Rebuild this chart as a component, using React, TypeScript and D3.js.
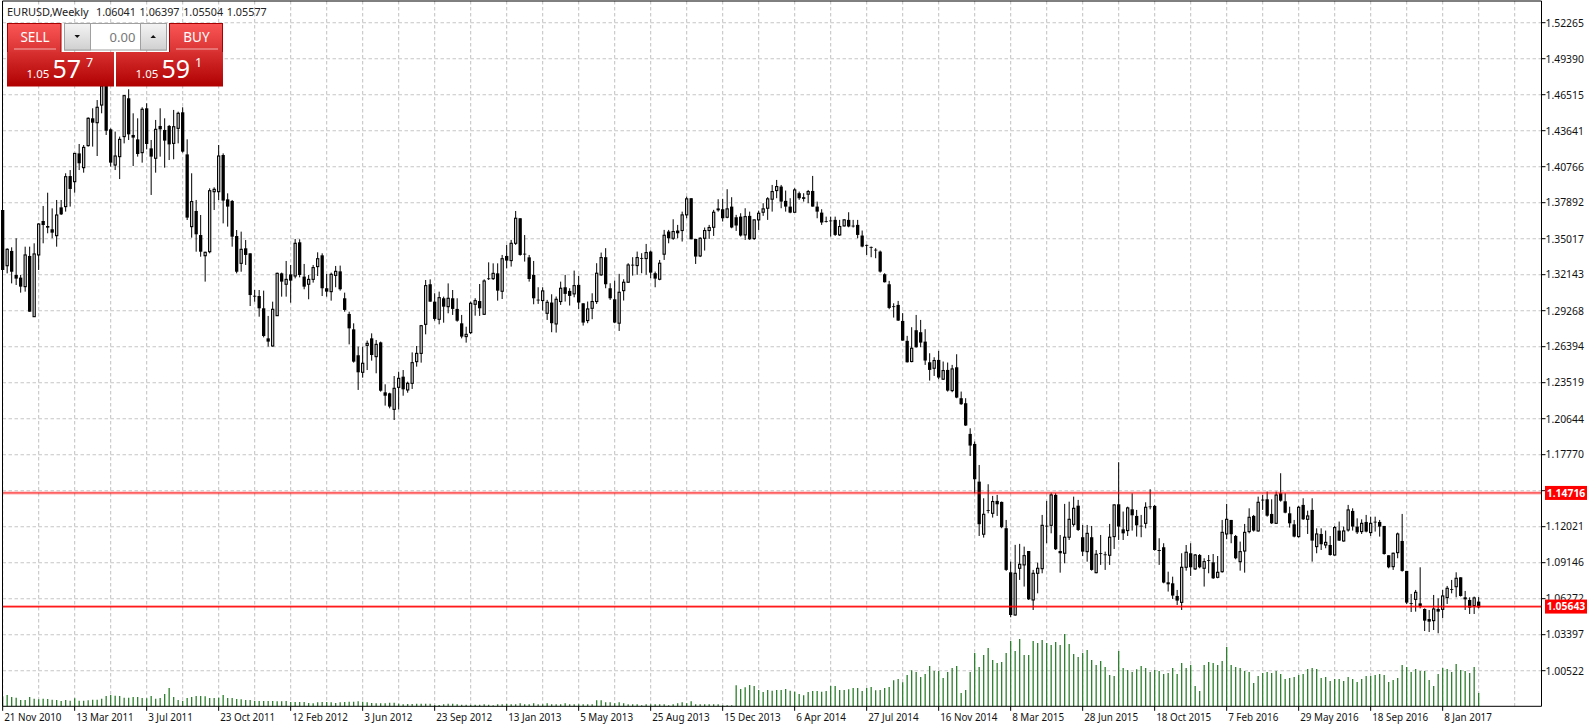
import * as d3 from 'd3';

// EURUSD weekly, values
const opens = [
  1.3731,1.3286,1.3404,1.3212,1.3191,1.3119,1.3364,1.2879,1.3372,1.3643,
  1.3603,1.3577,1.3526,1.3752,1.3758,1.4002,1.3957,1.4183,1.4069,1.4245,
  1.4463,1.4428,1.4569,1.4721,1.4375,1.4090,1.4157,1.4317,1.4623,1.4330,
  1.4295,1.4189,1.4543,1.4223,1.4144,1.4402,1.4370,1.4402,1.4263,1.4383,
  1.4511,1.4175,1.3598,1.3723,1.3531,1.3366,1.3398,1.3877,1.3877,1.4170,
  1.3816,1.3803,1.3523,1.3305,1.3425,1.3385,1.3046,1.3044,1.2946,1.2706,
  1.2645,1.2887,1.3225,1.3138,1.3217,1.3204,1.3473,1.3199,1.3138,1.3177,
  1.3279,1.3369,1.3106,1.3079,1.3209,1.3241,1.3026,1.2901,1.2778,1.2571,
  1.2435,1.2650,1.2706,1.2560,1.2674,1.2275,1.2267,1.2139,1.2315,1.2400,
  1.2294,1.2347,1.2520,1.2586,1.2818,1.3138,1.2999,1.2858,1.3026,1.2959,
  1.3026,1.2941,1.2826,1.2720,1.2752,1.2978,1.3004,1.2898,1.3185,1.3183,
  1.3225,1.3082,1.3364,1.3327,1.3465,1.3665,1.3382,1.3353,1.3213,1.3015,
  1.3008,1.2906,1.2992,1.2821,1.3000,1.3114,1.3085,1.3061,1.3133,1.2986,
  1.2848,1.2946,1.3000,1.3213,1.3354,1.3106,1.3018,1.2827,1.3087,1.3154,
  1.3294,1.3287,1.3348,1.3343,1.3399,1.3226,1.3178,1.3378,1.3559,1.3505,
  1.3567,1.3567,1.3692,1.3825,1.3500,1.3364,1.3505,1.3567,1.3593,1.3735,
  1.3737,1.3673,1.3758,1.3673,1.3678,1.3532,1.3684,1.3503,1.3652,1.3713,
  1.3745,1.3817,1.3886,1.3918,1.3804,1.3758,1.3713,1.3865,1.3833,1.3857,
  1.3883,1.3758,1.3710,1.3643,1.3647,1.3652,1.3532,1.3604,1.3652,1.3606,
  1.3612,1.3527,1.3452,1.3436,1.3414,1.3399,1.3218,1.3138,1.2962,1.2973,
  1.2845,1.2686,1.2521,1.2771,1.2755,1.2680,1.2515,1.2467,1.2534,1.2380,
  1.2454,1.2289,1.2475,1.2228,1.2188,1.1943,1.1863,1.1562,1.1142,1.1335,
  1.1309,1.1408,1.1400,1.1190,1.0838,1.0497,1.0870,1.0897,1.1008,1.0617,
  1.0830,1.0867,1.1210,1.1213,1.1456,1.1008,1.0990,1.1118,1.1221,1.1370,
  1.1118,1.1003,1.1118,1.0835,1.0992,1.0981,1.0974,1.1123,1.1381,1.1181,
  1.1171,1.1341,1.1288,1.1210,1.1229,1.1364,1.1368,1.1016,1.1038,1.0758,
  1.0750,1.0649,1.0598,1.0878,1.0990,1.0865,1.0976,1.0870,1.0936,1.0918,
  1.0798,1.0843,1.1144,1.1256,1.1128,1.0923,1.1008,1.1163,1.1288,1.1168,
  1.1418,1.1421,1.1304,1.1229,1.1469,1.1405,1.1309,1.1221,1.1123,1.1376,
  1.1261,1.1336,1.1043,1.1144,1.1056,1.1056,1.0976,1.1171,1.1088,1.1176,
  1.1328,1.1203,1.1163,1.1240,1.1155,1.1242,1.1240,1.1208,1.0974,1.0883,
  1.0995,1.1088,1.0849,1.0592,1.0622,1.0590,1.0545,1.0465,1.0452,1.0545,
  1.0542,1.0636,1.0704,1.0723,1.0798,1.0638,1.0617,1.0572,1.0604,
];
const highs = [
  1.3731,1.3425,1.3433,1.3505,1.3212,1.3438,1.3438,1.3465,1.3624,1.3763,
  1.3869,1.3744,1.3811,1.3811,1.4024,1.4050,1.4183,1.4258,1.4250,1.4471,
  1.4543,1.4609,1.4729,1.4729,1.4383,1.4357,1.4317,1.4649,1.4695,1.4503,
  1.4463,1.4551,1.4583,1.4290,1.4450,1.4543,1.4463,1.4410,1.4530,1.4516,
  1.4551,1.4295,1.4024,1.3811,1.3691,1.3398,1.3904,1.3912,1.4250,1.4183,
  1.3864,1.3811,1.3571,1.3558,1.3491,1.3385,1.3092,1.3092,1.3087,1.2885,
  1.2999,1.3231,1.3231,1.3324,1.3292,1.3500,1.3497,1.3300,1.3212,1.3292,
  1.3393,1.3385,1.3220,1.3231,1.3284,1.3287,1.3071,1.2919,1.2826,1.2640,
  1.2640,1.2688,1.2746,1.2693,1.2680,1.2339,1.2272,1.2405,1.2440,1.2453,
  1.2360,1.2594,1.2645,1.2813,1.3172,1.3177,1.3066,1.3079,1.3039,1.3145,
  1.3092,1.3026,1.2893,1.2799,1.2999,1.3026,1.3140,1.3177,1.3313,1.3305,
  1.3305,1.3372,1.3452,1.3492,1.3723,1.3665,1.3531,1.3372,1.3324,1.3114,
  1.3114,1.3013,1.3058,1.3040,1.3159,1.3213,1.3106,1.3247,1.3205,1.2986,
  1.3000,1.3066,1.3306,1.3391,1.3426,1.3146,1.3167,1.3221,1.3178,1.3306,
  1.3354,1.3399,1.3386,1.3460,1.3407,1.3239,1.3332,1.3572,1.3572,1.3657,
  1.3612,1.3718,1.3838,1.3825,1.3500,1.3513,1.3591,1.3612,1.3732,1.3817,
  1.3820,1.3897,1.3833,1.3692,1.3705,1.3745,1.3718,1.3655,1.3726,1.3785,
  1.3833,1.3931,1.3971,1.3931,1.3886,1.3825,1.3905,1.3878,1.3865,1.3891,
  1.4003,1.3798,1.3737,1.3678,1.3678,1.3678,1.3652,1.3657,1.3713,1.3652,
  1.3652,1.3567,1.3455,1.3439,1.3426,1.3407,1.3226,1.3165,1.2986,1.3005,
  1.2907,1.2726,1.2795,1.2893,1.2853,1.2779,1.2587,1.2555,1.2606,1.2521,
  1.2513,1.2494,1.2579,1.2281,1.2228,1.1988,1.1882,1.1695,1.1429,1.1541,
  1.1448,1.1456,1.1403,1.1256,1.0923,1.1057,1.1065,1.1043,1.1008,1.0857,
  1.0915,1.1296,1.1408,1.1474,1.1469,1.1136,1.1384,1.1402,1.1442,1.1416,
  1.1216,1.1216,1.1208,1.1016,1.1136,1.1003,1.1224,1.1381,1.1717,1.1323,
  1.1362,1.1469,1.1336,1.1296,1.1397,1.1501,1.1376,1.1110,1.1070,1.0843,
  1.0803,1.0697,1.0990,1.1056,1.1070,1.0984,1.0984,1.0950,1.0976,1.0984,
  1.0968,1.1256,1.1384,1.1256,1.1136,1.1083,1.1224,1.1349,1.1296,1.1442,
  1.1455,1.1482,1.1421,1.1482,1.1629,1.1469,1.1362,1.1256,1.1368,1.1429,
  1.1330,1.1429,1.1189,1.1189,1.1171,1.1128,1.1208,1.1243,1.1203,1.1376,
  1.1349,1.1269,1.1261,1.1296,1.1282,1.1282,1.1256,1.1208,1.0974,1.0995,
  1.1155,1.1304,1.0849,1.0665,1.0697,1.0878,1.0550,1.0537,1.0657,1.0630,
  1.0697,1.0729,1.0777,1.0838,1.0798,1.0689,1.0638,1.0644,1.0640,
];
const lows = [
  1.3252,1.3225,1.3145,1.3132,1.3071,1.3079,1.2919,1.2879,1.3252,1.3465,
  1.3545,1.3505,1.3438,1.3691,1.3718,1.3758,1.3869,1.4050,1.4029,1.4237,
  1.4237,1.4162,1.4503,1.4330,1.4077,1.4050,1.3978,1.4263,1.4290,1.4082,
  1.4157,1.4109,1.4215,1.3851,1.4029,1.4157,1.4069,1.4130,1.4136,1.4263,
  1.4189,1.3651,1.3510,1.3398,1.3358,1.3159,1.3385,1.3731,1.3811,1.3624,
  1.3598,1.3438,1.3225,1.3238,1.3292,1.2964,1.2999,1.2879,1.2714,1.2640,
  1.2640,1.2887,1.3039,1.3039,1.2991,1.3185,1.3193,1.3098,1.3018,1.3151,
  1.3204,1.3044,1.3039,1.3007,1.3114,1.3087,1.2919,1.2658,1.2512,1.2294,
  1.2392,1.2453,1.2528,1.2427,1.2280,1.2169,1.2147,1.2054,1.2139,1.2248,
  1.2272,1.2302,1.2480,1.2512,1.2738,1.2999,1.2847,1.2818,1.2831,1.2906,
  1.2893,1.2839,1.2706,1.2672,1.2741,1.2887,1.2885,1.2893,1.3172,1.3172,
  1.3007,1.3020,1.3265,1.3279,1.3452,1.3366,1.3319,1.3159,1.2978,1.2981,
  1.2928,1.2853,1.2755,1.2752,1.2973,1.3000,1.2968,1.3034,1.2941,1.2808,
  1.2827,1.2859,1.2981,1.3205,1.3106,1.3013,1.2827,1.2765,1.3008,1.3151,
  1.3207,1.3213,1.3226,1.3213,1.3186,1.3114,1.3170,1.3332,1.3465,1.3492,
  1.3505,1.3479,1.3665,1.3497,1.3300,1.3355,1.3407,1.3500,1.3524,1.3718,
  1.3639,1.3665,1.3585,1.3564,1.3519,1.3492,1.3492,1.3492,1.3572,1.3684,
  1.3652,1.3718,1.3825,1.3745,1.3718,1.3705,1.3710,1.3812,1.3798,1.3785,
  1.3758,1.3665,1.3612,1.3631,1.3519,1.3524,1.3524,1.3599,1.3593,1.3591,
  1.3505,1.3433,1.3372,1.3354,1.3346,1.3231,1.3152,1.2939,1.2872,1.2845,
  1.2688,1.2513,1.2515,1.2632,1.2635,1.2494,1.2369,1.2406,1.2380,1.2374,
  1.2281,1.2276,1.2228,1.2175,1.2007,1.1767,1.1469,1.1128,1.1115,1.1309,
  1.1275,1.1288,1.1190,1.0849,1.0479,1.0492,1.0777,1.0724,1.0617,1.0537,
  1.0670,1.0830,1.1070,1.1149,1.1016,1.0835,1.0910,1.1096,1.1203,1.1168,
  1.0968,1.0923,1.0851,1.0830,1.0897,1.0857,1.0897,1.1024,1.1096,1.1096,
  1.1128,1.1171,1.1123,1.1118,1.1189,1.1341,1.1011,1.0897,1.0750,1.0684,
  1.0625,1.0577,1.0537,1.0851,1.0809,1.0857,1.0870,1.0724,1.0830,1.0785,
  1.0790,1.0835,1.1102,1.1070,1.0942,1.0851,1.0835,1.1149,1.1163,1.1163,
  1.1336,1.1282,1.1224,1.1224,1.1402,1.1309,1.1195,1.1117,1.1115,1.1256,
  1.1144,1.0923,1.0990,1.1016,1.1030,1.0971,1.0971,1.1088,1.1083,1.1163,
  1.1171,1.1144,1.1144,1.1157,1.1128,1.1163,1.1123,1.0979,1.0870,1.0857,
  1.0950,1.0843,1.0585,1.0521,1.0524,1.0550,1.0369,1.0361,1.0377,1.0351,
  1.0471,1.0585,1.0670,1.0638,1.0644,1.0537,1.0505,1.0505,1.0550,
];
const closes = [
  1.3252,1.3417,1.3238,1.3183,1.3119,1.3372,1.2919,1.3380,1.3619,1.3611,
  1.3590,1.3550,1.3691,1.3696,1.3997,1.3899,1.4183,1.4104,1.4231,1.4463,
  1.4428,1.4551,1.4721,1.4364,1.4109,1.4162,1.4295,1.4644,1.4335,1.4309,
  1.4178,1.4535,1.4258,1.4157,1.4375,1.4375,1.4285,1.4255,1.4396,1.4503,
  1.4197,1.3670,1.3798,1.3537,1.3398,1.3393,1.3885,1.3896,1.4162,1.3806,
  1.3758,1.3518,1.3238,1.3417,1.3372,1.3052,1.3042,1.2946,1.2725,1.2680,
  1.2938,1.3225,1.3159,1.3177,1.3167,1.3465,1.3212,1.3119,1.3177,1.3271,
  1.3342,1.3106,1.3079,1.3217,1.3241,1.3098,1.2933,1.2786,1.2520,1.2435,
  1.2507,1.2666,1.2573,1.2658,1.2288,1.2248,1.2161,1.2307,1.2387,1.2299,
  1.2347,1.2512,1.2586,1.2807,1.3127,1.2999,1.2861,1.3031,1.2959,1.3026,
  1.2941,1.2847,1.2720,1.2738,1.2986,1.3007,1.2946,1.3164,1.3181,1.3225,
  1.3087,1.3342,1.3327,1.3465,1.3665,1.3372,1.3378,1.3180,1.3026,1.3011,
  1.3085,1.2994,1.2827,1.3018,1.3106,1.3061,1.3045,1.3127,1.2992,1.2832,
  1.2941,1.3000,1.3226,1.3351,1.3138,1.3026,1.2832,1.3074,1.3154,1.3292,
  1.3290,1.3351,1.3344,1.3391,1.3231,1.3183,1.3306,1.3529,1.3505,1.3559,
  1.3545,1.3692,1.3820,1.3497,1.3359,1.3505,1.3567,1.3591,1.3713,1.3739,
  1.3665,1.3740,1.3591,1.3607,1.3527,1.3678,1.3497,1.3652,1.3705,1.3740,
  1.3820,1.3878,1.3918,1.3798,1.3758,1.3710,1.3891,1.3825,1.3820,1.3878,
  1.3758,1.3718,1.3631,1.3639,1.3641,1.3532,1.3599,1.3652,1.3599,1.3602,
  1.3532,1.3439,1.3447,1.3432,1.3410,1.3239,1.3154,1.2949,1.2958,1.2848,
  1.2688,1.2515,1.2627,1.2635,1.2672,1.2529,1.2454,1.2529,1.2393,1.2449,
  1.2289,1.2462,1.2233,1.2180,1.2010,1.1850,1.1581,1.1222,1.1301,1.1331,
  1.1403,1.1381,1.1198,1.0857,1.0497,1.0830,1.0902,1.0971,1.0622,1.0830,
  1.0870,1.1213,1.1206,1.1456,1.1022,1.0990,1.1118,1.1261,1.1349,1.1176,
  1.1003,1.1149,1.0857,1.0982,1.0988,1.0977,1.1118,1.1376,1.1203,1.1149,
  1.1352,1.1293,1.1213,1.1206,1.1357,1.1360,1.1016,1.1008,1.0756,1.0742,
  1.0652,1.0612,1.0878,1.0998,1.0878,1.0976,1.0878,1.0923,1.0932,1.0790,
  1.0838,1.1157,1.1261,1.1142,1.0950,1.1003,1.1157,1.1277,1.1171,1.1397,
  1.1414,1.1290,1.1229,1.1455,1.1410,1.1314,1.1229,1.1123,1.1357,1.1261,
  1.1288,1.1091,1.1144,1.1062,1.1077,1.0976,1.1195,1.1091,1.1168,1.1336,
  1.1203,1.1157,1.1229,1.1163,1.1229,1.1238,1.1203,1.0984,1.0878,1.0990,
  1.1144,1.0849,1.0596,1.0588,1.0678,1.0564,1.0452,1.0444,1.0545,1.0524,
  1.0649,1.0710,1.0700,1.0790,1.0649,1.0622,1.0556,1.0633,1.0558,
];
const volumes = [
  30,34,28,26,19,19,28,23,21,23,22,
  20,19,16,19,17,24,17,17,18,20,
  20,23,31,34,32,31,26,26,28,28,
  25,24,31,23,25,37,55,28,19,16,
  25,28,31,31,30,25,25,26,34,25,
  25,22,21,19,19,16,16,16,16,16,
  15,15,16,13,13,13,13,10,9,12,
  13,13,12,10,12,13,14,14,15,14,
  12,10,9,9,9,11,11,8,6,7,
  7,8,8,8,8,4,4,6,8,8,
  6,5,5,5,5,
  5,6,5,3,6,6,7,6,6,9,
  6,6,9,6,6,9,6,6,6,9,
  6,6,6,6,6,6,18,18,12,12,
  9,12,9,6,6,6,3,6,6,6,
  6,6,3,6,9,12,9,15,6,6,
  6,6,6,6,3,3,3,
  63,52,57,64,61,49,43,49,47,49,49,52,47,44,37,33,43,46,46,44,46,61,61,49,49,51,55,55,46,55,58,48,49,55,58,
  78,82,72,94,108,103,88,97,121,106,106,85,103,115,121,40,49,103,160,118,154,175,139,130,133,160,196,166,202,154,154,196,190,199,190,184,193,184,217,187,157,148,160,169,139,124,136,118,94,91,166,115,109,103,111,121,115,
  103,109,106,97,100,115,97,130,115,124,61,46,124,133,130,124,136,178,124,118,115,106,103,70,91,100,103,100,106,97,82,85,88,94,97,112,115,112,85,88,76,82,82,76,88,82,73,82,91,91,94,97,94,73,79,85,124,118,103,112,106,106,79,61,97,115,112,103,127,109,106,100,118,40,
];
const dateLabels = [
  '21 Nov 2010','13 Mar 2011','3 Jul 2011','23 Oct 2011','12 Feb 2012','3 Jun 2012','23 Sep 2012',
  '13 Jan 2013','5 May 2013','25 Aug 2013','15 Dec 2013','6 Apr 2014','27 Jul 2014','16 Nov 2014',
  '8 Mar 2015','28 Jun 2015','18 Oct 2015','7 Feb 2016','29 May 2016','18 Sep 2016','8 Jan 2017',
];
const priceTicks = [
  1.52265,1.4939,1.46515,1.43641,1.40766,1.37892,1.35017,1.32143,1.29268,1.26394,
  1.23519,1.20644,1.1777,1.14895,1.12021,1.09146,1.06272,1.03397,1.00522,
];
const hLevels = [1.14716, 1.05643];
const titleValues = ['1.06041', '1.06397', '1.05504', '1.05577'];

const W = 1589;
const H = 726;
const plotRight = 1541.5;
const plotBottom = 706.3;
const fontFamily = '"Noto Sans", sans-serif';

const x = d3.scaleLinear().domain([0, 328]).range([2.67, 2.67 + 4.5 * 328]);
const y = d3.scaleLinear().domain([1.00522, 1.52265]).range([670.7, 22.7]);
const yVol = d3.scaleLinear().domain([0, 217]).range([plotBottom, 634]);
const vGrid = d3.range(0, 43).map((i) => x(0) + 36 * i).filter((v) => v < plotRight);

function TradePanel() {
  return (
    <g fontFamily={fontFamily}>
      <defs>
        <linearGradient id="redTop" x1="0" x2="0" y1="0" y2="1">
          <stop offset="0" stopColor="#fb5656" />
          <stop offset="1" stopColor="#d93232" />
        </linearGradient>
        <linearGradient id="redBottom" x1="0" x2="0" y1="0" y2="1">
          <stop offset="0" stopColor="#d83030" />
          <stop offset="1" stopColor="#b00000" />
        </linearGradient>
        <linearGradient id="btnGrey" x1="0" x2="0" y1="0" y2="1">
          <stop offset="0" stopColor="#f4f4f4" />
          <stop offset="1" stopColor="#d0d0d0" />
        </linearGradient>
      </defs>
      <rect x="7.5" y="23.5" width="53.5" height="29" fill="url(#redTop)" stroke="#a80000" />
      <rect x="169.5" y="23.5" width="53" height="29" fill="url(#redTop)" stroke="#a80000" />
      <rect x="7" y="52" width="107" height="34.5" fill="url(#redBottom)" />
      <rect x="116" y="52" width="107" height="34.5" fill="url(#redBottom)" />
      <rect x="64.5" y="23.5" width="102" height="26.5" fill="#fff" stroke="#a0a0a0" />
      <rect x="64.5" y="23.5" width="26" height="26.5" fill="url(#btnGrey)" stroke="#a0a0a0" />
      <rect x="140.5" y="23.5" width="26" height="26.5" fill="url(#btnGrey)" stroke="#a0a0a0" />
      <path d="M74.5 35 L80 35 L77.2 38 Z" fill="#111" />
      <path d="M150.5 38 L156 38 L153.2 35 Z" fill="#111" />
      <text x="122.5" y="41.5" textAnchor="middle" fontSize="13" fill="#777">0.00</text>
      <text x="35" y="42" textAnchor="middle" fontSize="13.5" fill="#fff">SELL</text>
      <text x="196.5" y="42" textAnchor="middle" fontSize="13.5" fill="#fff">BUY</text>
      <line x1="14" x2="56" y1="49" y2="49" stroke="#f3b0b0" />
      <line x1="176" x2="218" y1="49" y2="49" stroke="#f3b0b0" />
      <g fill="#fff">
        <text x="26.5" y="77.5" fontSize="11.5">1.05</text>
        <text x="52.5" y="78" fontSize="25">57</text>
        <text x="86" y="67" fontSize="12.5">7</text>
        <text x="135.5" y="77.5" fontSize="11.5">1.05</text>
        <text x="161.5" y="78" fontSize="25">59</text>
        <text x="195" y="67" fontSize="12.5">1</text>
      </g>
    </g>
  );
}

export default function App() {
  return (
    <svg
      width={W}
      height={H}
      viewBox={`0 0 ${W} ${H}`}
      style={{ position: 'absolute', left: 0, top: 0, background: '#fff' }}
      fontFamily={fontFamily}
    >
      {/* grid */}
      <g stroke="#c6c6c6" strokeWidth="1.1" strokeDasharray="3.5 2.5">
        {priceTicks.map((t) => (
          <line key={t} x1={2.5} x2={plotRight} y1={y(t)} y2={y(t)} />
        ))}
        {vGrid.map((v) => (
          <line key={v} x1={v} x2={v} y1={1} y2={plotBottom} />
        ))}
      </g>

      {/* volumes */}
      <g stroke="#2a7f2a" strokeWidth="1.3">
        {volumes.map((v, i) => (
          <line key={i} x1={x(i)} x2={x(i)} y1={plotBottom} y2={yVol(v)} />
        ))}
      </g>

      {/* candles */}
      <g>
        {opens.map((o, i) => {
          const c = closes[i];
          const up = c >= o;
          const top = y(Math.max(o, c));
          const bottom = y(Math.min(o, c));
          return (
            <g key={i}>
              <line x1={x(i)} x2={x(i)} y1={y(highs[i])} y2={y(lows[i])} stroke="#000" strokeWidth="1" />
              {up ? (
                <rect
                  x={x(i) - 1.1}
                  width={2.2}
                  y={top}
                  height={Math.max(bottom - top, 0.8)}
                  fill="#e4e4e4"
                  stroke="#000"
                  strokeWidth="1.1"
                />
              ) : (
                <rect
                  x={x(i) - 1.65}
                  width={3.3}
                  y={top}
                  height={Math.max(bottom - top, 0.8)}
                  fill="#000"
                />
              )}
            </g>
          );
        })}
      </g>

      {/* horizontal levels, red core with a pink edge */}
      {hLevels.map((l, i) => (
        <g key={l}>
          <line x1={2.5} x2={plotRight} y1={y(l)} y2={y(l)} stroke="#ff0000" strokeOpacity="0.3" strokeWidth="3" />
          <line x1={2.5} x2={plotRight} y1={y(l)} y2={y(l)} stroke="#ff0000" strokeOpacity={i === 0 ? 0.6 : 0.85} strokeWidth="1.2" />
        </g>
      ))}

      {/* frame */}
      <path
        d={`M2.5 ${plotBottom} V1 H${plotRight} V${plotBottom} H2.5`}
        fill="none"
        stroke="#000"
        strokeWidth="1"
      />

      {/* price axis */}
      {priceTicks.map((t) => (
        <g key={t}>
          <line x1={plotRight} x2={plotRight + 4} y1={y(t)} y2={y(t)} stroke="#000" />
          <text x={1545.5} y={y(t) + 3.8} fontSize="10.4" fill="#111">
            {t.toFixed(5)}
          </text>
        </g>
      ))}
      {hLevels.map((l) => (
        <g key={l}>
          <rect x={1545} y={y(l) - 7} width={42} height={14} fill="#ff0000" />
          <text x={1566} y={y(l) + 3.8} fontSize="10.4" fontWeight="700" textAnchor="middle" fill="#fff">
            {l.toFixed(5)}
          </text>
        </g>
      ))}

      {/* time axis */}
      {dateLabels.map((d, i) => (
        <g key={d}>
          <line x1={x(i * 16)} x2={x(i * 16)} y1={plotBottom} y2={plotBottom + 4.5} stroke="#000" />
          <text x={x(i * 16) + 1.5} y={721} fontSize="9.9" fill="#111">
            {d}
          </text>
        </g>
      ))}

      {/* title */}
      <text x={7} y={16} fontSize="11" fill="#222">EURUSD,Weekly</text>
      {titleValues.map((v, i) => (
        <text key={v} x={96 + 43.6 * i} y={16} fontSize="10.8" fill="#222">
          {v}
        </text>
      ))}

      <TradePanel />
    </svg>
  );
}
